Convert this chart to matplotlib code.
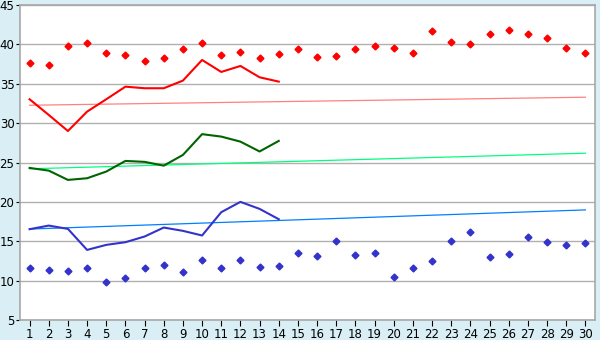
import matplotlib
matplotlib.use("Agg")
import matplotlib.pyplot as plt
import numpy as np

days = list(range(1, 31))
max_points = [37.6, 37.35, 39.76, 40.14, 38.87, 38.62, 37.86, 38.24, 39.38, 40.14,
              38.62, 39.0, 38.24, 38.74, 39.38, 38.36, 38.49, 39.38, 39.76, 39.5,
              38.87, 41.66, 40.27, 40.01, 41.28, 41.79, 41.28, 40.77, 39.5, 38.87]
min_points = [11.59, 11.33, 11.2, 11.59, 9.81, 10.32, 11.59, 11.97, 11.08, 12.6,
              11.59, 12.6, 11.71, 11.84, 13.49, 13.11, 15.01, 13.24, 13.49, 10.44,
              11.59, 12.47, 15.01, 16.15, 12.98, 13.36, 15.52, 14.88, 14.5, 14.75]
line_days = list(range(1, 15))
red_line = [33.03, 31.04, 29.0, 31.46, 33.03, 34.63, 34.43, 34.43, 35.4, 38.02,
            36.5, 37.26, 35.82, 35.27]
green_line = [24.31, 23.97, 22.79, 23.0, 23.85, 25.2, 25.08, 24.6, 25.96, 28.6,
              28.29, 27.65, 26.4, 27.74]
blue_line = [16.53, 16.99, 16.57, 13.9, 14.54, 14.88, 15.6, 16.74, 16.32, 15.73,
             18.69, 20.0, 19.11, 17.8]
red_trend = [32.27, 33.29]
green_trend = [24.2, 26.18]
blue_trend = [16.55, 18.98]
trend_days = [1, 30]
yticks = [5, 10, 15, 20, 25, 30, 35, 40, 45]

fig = plt.figure(figsize=(6, 3.4), dpi=100)
fig.patch.set_facecolor('#D9EFF5')
ax = fig.add_axes([20/600, 20/340, 575/600, 315/340])
ax.set_facecolor('white')

ax.plot(trend_days, red_trend, color='#FF8080', lw=0.9, zorder=2)
ax.plot(trend_days, green_trend, color='#00FF80', lw=0.9, zorder=2)
ax.plot(trend_days, blue_trend, color='#0080FF', lw=0.9, zorder=2)

ax.plot(line_days, red_line, color='#FF0000', lw=1.5, zorder=3)
ax.plot(line_days, green_line, color='#006400', lw=1.5, zorder=3)
ax.plot(line_days, blue_line, color='#3333CC', lw=1.5, zorder=3)

ax.plot(days, max_points, ls='none', marker='D', ms=3.5, color='#FF0000', mec='#FF0000', zorder=4)
ax.plot(days, min_points, ls='none', marker='D', ms=3.5, color='#3333CC', mec='#3333CC', zorder=4)

ax.set_xlim(0.5, 30.5)
ax.set_ylim(5, 45)
ax.set_xticks(days)
ax.set_xticklabels([str(d) for d in days])
ax.set_yticks(yticks)
ax.set_yticklabels([str(v) for v in yticks])
ax.yaxis.grid(True, color='#B0B0B0', lw=1.0)
ax.set_axisbelow(True)
for s in ax.spines.values():
    s.set_color('#A8A8A8')
    s.set_linewidth(1.2)
ax.tick_params(axis='both', colors='black', labelsize=8.5, length=4, width=0.8, pad=2)
ax.tick_params(axis='y', length=3, pad=1)

fig.savefig('out.png', dpi=100, facecolor=fig.get_facecolor())
